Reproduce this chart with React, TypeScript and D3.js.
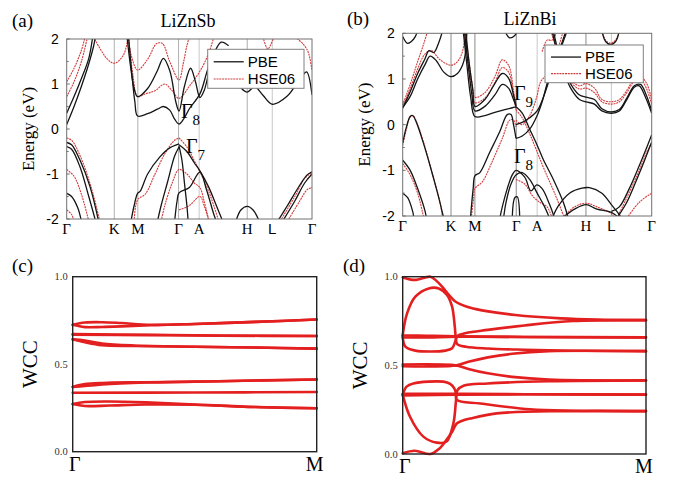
import React from "react";
import * as d3 from "d3";

type P = [number, number];

// high-symmetry path
const kTicks = [0, 0.194, 0.29, 0.456, 0.54, 0.736, 0.838, 1];
const kLabels = ["Γ", "K", "M", "Γ", "A", "H", "L", "Γ"];
const eTicks = [2, 1, 0, -1, -2];
const wTicks = [1.0, 0.5, 0.0];

// ---------- (a) LiZnSb ----------
const sbPBE: P[][] = [
  [[0, 0.1], [0.03, 0.5], [0.06, 0.95], [0.09, 1.45], [0.11, 1.85], [0.117, 2.05]],
  [[0, 0.35], [0.03, 0.72], [0.06, 1.12], [0.09, 1.57], [0.106, 2.05]],
  [[0.252, 2.05], [0.266, 1.2], [0.278, 0.6], [0.289, 0.29], [0.33, 0.34], [0.37, 0.44], [0.394, 0.5], [0.42, 0.42], [0.44, 0.22], [0.458, 0.11], [0.48, 0.25], [0.5, 0.45], [0.543, 0.78], [0.58, 1.4], [0.63, 1.93], [0.66, 1.85]],
  [[0.246, 2.05], [0.26, 1.4], [0.275, 0.9], [0.289, 0.72], [0.33, 0.9], [0.37, 1.3], [0.394, 1.57], [0.42, 1.3], [0.445, 0.6], [0.458, 0.4], [0.48, 0.95], [0.505, 1.35], [0.525, 1.05], [0.543, 0.7], [0.56, 0.85], [0.58, 1.3]],
  [[0.68, 1.2], [0.713, 0.9], [0.736, 0.82], [0.766, 0.94], [0.8, 0.75], [0.838, 0.55], [0.897, 0.72], [0.957, 1.16], [0.978, 1.27], [1, 0.76]],
  [[0, -0.3], [0.02, -0.35], [0.054, -0.69], [0.095, -1.28], [0.13, -2.05]],
  [[0, -0.39], [0.02, -0.45], [0.054, -0.84], [0.09, -1.5], [0.118, -2.05]],
  [[0, -1.43], [0.02, -1.5], [0.045, -1.75], [0.06, -2.05]],
  [[0.262, -2.05], [0.275, -1.7], [0.289, -1.43], [0.3, -1.38], [0.33, -1.0], [0.38, -0.62], [0.42, -0.42], [0.458, -0.33]],
  [[0.458, -0.35], [0.49, -0.5], [0.52, -0.75], [0.543, -0.93], [0.578, -1.28], [0.61, -1.7], [0.636, -2.05]],
  [[0.458, -0.38], [0.47, -0.7], [0.48, -1.2], [0.49, -1.7], [0.495, -2.05]],
  [[0.458, -0.4], [0.44, -0.6], [0.41, -1.2], [0.385, -1.7], [0.37, -2.05]],
  [[0.44, -2.05], [0.45, -1.6], [0.458, -1.42], [0.5, -1.3], [0.543, -0.96], [0.57, -1.35], [0.6, -1.9], [0.61, -2.05]],
  [[0.69, -2.05], [0.71, -1.8], [0.736, -1.72], [0.76, -1.8], [0.785, -2.05]],
  [[0.86, -2.05], [0.9, -1.7], [0.95, -1.25], [0.98, -1.02], [1, -0.95]],
  [[0.88, -2.05], [0.93, -1.6], [0.97, -1.2], [1, -1.0]],
];
const sbHSE: P[][] = [
  [[0, 0.72], [0.03, 1.05], [0.06, 1.5], [0.085, 2.05]],
  [[0, 1.05], [0.03, 1.35], [0.06, 1.75], [0.075, 2.05]],
  [[0.109, 2.05], [0.163, 1.57], [0.194, 1.46], [0.231, 1.64], [0.251, 2.05]],
  [[0.252, 2.05], [0.27, 1.2], [0.289, 0.72], [0.32, 0.78], [0.36, 0.85], [0.4, 1.0], [0.43, 0.85], [0.458, 0.68], [0.5, 0.95], [0.545, 1.3], [0.58, 1.7], [0.6, 2.05]],
  [[0.25, 2.05], [0.265, 1.6], [0.289, 1.31], [0.33, 1.55], [0.367, 1.9], [0.39, 1.9], [0.42, 1.5], [0.458, 1.09], [0.475, 1.45], [0.49, 1.85], [0.5, 2.05]],
  [[0.8, 2.05], [0.82, 1.78], [0.845, 2.05]],
  [[0.93, 2.05], [0.965, 1.88], [0.985, 1.7], [1, 1.3]],
  [[0, -0.2], [0.02, -0.25], [0.055, -0.6], [0.1, -1.3], [0.135, -2.05]],
  [[0, -0.9], [0.03, -1.05], [0.06, -1.45], [0.09, -2.05]],
  [[0, -1.8], [0.02, -1.9], [0.03, -2.05]],
  [[0.275, -2.05], [0.289, -1.57], [0.32, -1.45], [0.36, -1.0], [0.4, -0.55], [0.44, -0.25], [0.458, -0.2]],
  [[0.458, -0.2], [0.49, -0.4], [0.52, -0.7], [0.543, -0.95], [0.58, -1.4], [0.62, -2.05]],
  [[0.385, -2.05], [0.4, -1.7], [0.43, -1.2], [0.458, -0.9], [0.49, -1.0], [0.52, -1.2], [0.543, -1.3], [0.56, -1.6], [0.58, -2.05]],
  [[0.458, -1.8], [0.5, -1.7], [0.543, -1.5], [0.56, -1.7], [0.58, -2.05]],
  [[0.9, -2.05], [0.95, -1.6], [0.98, -1.35], [1, -1.3]],
  [[0.87, -2.05], [0.93, -1.5], [0.97, -1.1], [1, -0.97]],
];

// ---------- (b) LiZnBi ----------
const biPBE: P[][] = [
  [[0, -0.4], [0.015, -0.05], [0.03, 0.18], [0.04, 0.2], [0.055, 0.05], [0.08, -0.35], [0.11, -0.9], [0.14, -1.5], [0.165, -2.05]],
  [[0, 0.38], [0.03, 0.62], [0.06, 1.0], [0.09, 1.32], [0.11, 1.5], [0.135, 1.4], [0.165, 1.15], [0.194, 1.05], [0.22, 1.12], [0.24, 1.3], [0.25, 1.5], [0.258, 2.05]],
  [[0, 0.36], [0.03, 0.72], [0.06, 1.12], [0.09, 1.45], [0.105, 1.62], [0.125, 1.58], [0.145, 1.8], [0.16, 2.05]],
  [[0, 1.93], [0.02, 1.78], [0.045, 1.88], [0.06, 2.05]],
  [[0, -0.78], [0.03, -1.0], [0.06, -1.4], [0.09, -1.9], [0.095, -2.05]],
  [[0, -1.5], [0.02, -1.6], [0.04, -1.9], [0.045, -2.05]],
  [[0.243, 2.05], [0.258, 1.3], [0.273, 0.6], [0.29, 0.18], [0.33, 0.2], [0.37, 0.27], [0.41, 0.33], [0.44, 0.37], [0.455, 0.39]],
  [[0.248, 2.05], [0.263, 1.3], [0.278, 0.65], [0.29, 0.3], [0.33, 0.4], [0.37, 0.65], [0.4, 0.88], [0.425, 0.8], [0.445, 0.55], [0.455, 0.4]],
  [[0.253, 2.05], [0.268, 1.3], [0.282, 0.75], [0.29, 0.4], [0.33, 0.55], [0.37, 0.9], [0.4, 1.12], [0.425, 1.02], [0.445, 0.65], [0.455, 0.42]],
  [[0.272, -2.05], [0.283, -1.4], [0.29, -1.12], [0.31, -1.05], [0.35, -0.6], [0.39, -0.15], [0.42, 0.22], [0.435, 0.22], [0.445, 0.0], [0.455, -0.3]],
  [[0.455, 0.39], [0.48, 0.25], [0.51, -0.1], [0.54, -0.45], [0.565, -0.77], [0.605, -1.2], [0.645, -1.7], [0.665, -2.05]],
  [[0.455, -0.3], [0.48, -0.25], [0.51, -0.1], [0.54, 0.2], [0.56, 0.5], [0.58, 0.9], [0.61, 1.4], [0.64, 1.8], [0.655, 2.05]],
  [[0.455, 0.0], [0.48, 0.05], [0.51, 0.15], [0.54, 0.3], [0.565, 0.6], [0.59, 1.0], [0.62, 1.45], [0.65, 1.9], [0.66, 2.05]],
  [[0.39, -2.05], [0.4, -1.8], [0.42, -1.4], [0.44, -1.1], [0.455, -1.0], [0.49, -1.15], [0.515, -1.45], [0.538, -1.32], [0.56, -1.4], [0.59, -1.75], [0.61, -2.05]],
  [[0.405, -2.05], [0.415, -1.7], [0.435, -1.3], [0.455, -1.1], [0.48, -1.05], [0.51, -1.2], [0.54, -1.5], [0.57, -1.8], [0.59, -2.05]],
  [[0.44, -2.05], [0.45, -1.6], [0.46, -1.58], [0.47, -2.05]],
  [[0.6, -2.05], [0.625, -1.78], [0.67, -1.5], [0.72, -1.39], [0.75, -1.38], [0.8, -1.5], [0.838, -1.75], [0.86, -1.9], [0.88, -2.05]],
  [[0.64, -2.05], [0.69, -1.85], [0.736, -1.75], [0.78, -1.85], [0.838, -1.92], [0.87, -2.05]],
  [[0.838, -1.9], [0.87, -1.8], [0.91, -1.4], [0.95, -0.9], [0.98, -0.5], [1, -0.22]],
  [[0.86, -2.05], [0.9, -1.7], [0.94, -1.2], [0.97, -0.8], [1, -0.38]],
  [[0.6, 2.05], [0.62, 1.6], [0.65, 1.1], [0.68, 0.75], [0.71, 0.55], [0.736, 0.5], [0.77, 0.45], [0.8, 0.3], [0.838, 0.25], [0.87, 0.3], [0.9, 0.55], [0.93, 0.82], [0.95, 0.85], [0.975, 0.6], [1, 0.25]],
  [[0.605, 2.05], [0.625, 1.6], [0.655, 1.1], [0.685, 0.8], [0.71, 0.65], [0.736, 0.6], [0.77, 0.55], [0.8, 0.35], [0.838, 0.28], [0.87, 0.33], [0.9, 0.58], [0.93, 0.85], [0.955, 0.88], [0.978, 0.65], [1, 0.3]],
  [[0.8, 2.05], [0.815, 1.82], [0.835, 1.75], [0.855, 1.82], [0.87, 2.05]],
  [[0.41, 2.05], [0.43, 1.9], [0.45, 1.95], [0.46, 2.05]],
];
const biHSE: P[][] = [
  [[0, 0.4], [0.03, 0.78], [0.06, 1.22], [0.09, 1.55], [0.115, 1.62], [0.15, 1.42], [0.194, 1.3], [0.22, 1.38], [0.24, 1.6], [0.252, 2.05]],
  [[0, 0.43], [0.03, 0.88], [0.06, 1.38], [0.085, 1.78], [0.1, 2.05]],
  [[0, -0.45], [0.015, -0.1], [0.03, 0.17], [0.042, 0.19], [0.06, 0.0], [0.09, -0.5], [0.12, -1.1], [0.15, -1.7], [0.16, -2.05]],
  [[0, -0.85], [0.03, -1.1], [0.06, -1.5], [0.085, -2.05]],
  [[0.247, 2.05], [0.262, 1.4], [0.278, 0.85], [0.29, 0.6], [0.33, 0.7], [0.37, 1.05], [0.4, 1.42], [0.425, 1.3], [0.445, 0.75], [0.455, 0.35]],
  [[0.251, 2.05], [0.266, 1.4], [0.281, 0.8], [0.29, 0.48], [0.33, 0.58], [0.37, 0.92], [0.4, 1.25], [0.425, 1.15], [0.445, 0.65], [0.455, 0.32]],
  [[0.275, -2.05], [0.285, -1.6], [0.29, -1.4], [0.32, -1.25], [0.36, -0.8], [0.4, -0.3], [0.43, 0.1], [0.445, 0.1], [0.455, -0.05]],
  [[0.455, 0.32], [0.48, 0.15], [0.51, -0.2], [0.54, -0.6], [0.57, -1.0], [0.61, -1.5], [0.65, -2.05]],
  [[0.455, 0.1], [0.48, 0.0], [0.51, 0.2], [0.538, 0.6], [0.555, 0.95], [0.59, 1.15], [0.62, 1.6], [0.645, 2.05]],
  [[0.455, -1.2], [0.49, -1.3], [0.52, -1.55], [0.55, -1.7], [0.58, -1.8], [0.6, -2.05]],
  [[0.64, -2.05], [0.69, -1.8], [0.736, -1.72], [0.78, -1.8], [0.838, -1.95], [0.85, -2.05]],
  [[0.86, -2.05], [0.9, -1.6], [0.95, -1.0], [0.98, -0.6], [1, -0.4]],
  [[0.9, -2.05], [0.95, -1.7], [1, -1.5]],
  [[0.595, 2.05], [0.615, 1.7], [0.645, 1.2], [0.68, 0.9], [0.71, 0.78], [0.736, 0.8], [0.77, 0.7], [0.8, 0.5], [0.838, 0.45], [0.87, 0.5], [0.9, 0.7], [0.93, 0.95], [0.955, 1.0], [0.978, 0.8], [1, 0.45]],
  [[0.6, 2.05], [0.62, 1.65], [0.65, 1.2], [0.68, 0.95], [0.71, 0.85], [0.736, 0.9], [0.77, 0.8], [0.8, 0.55], [0.838, 0.5], [0.87, 0.55], [0.9, 0.75], [0.93, 1.0], [0.955, 1.05], [0.98, 0.9], [1, 0.55]],
  [[0.8, 2.05], [0.815, 1.85], [0.835, 1.78], [0.855, 1.85], [0.87, 2.05]],
  [[0.56, 1.6], [0.58, 1.85], [0.6, 1.85], [0.62, 2.05]],
];

// ---------- (c) WCC LiZnSb ----------
const wccSb: P[][] = [
  [[0, 0.725], [0.05, 0.738], [0.12, 0.74], [0.2, 0.735], [0.32, 0.725], [0.5, 0.73], [0.75, 0.742], [1, 0.755]],
  [[0, 0.725], [0.05, 0.712], [0.12, 0.713], [0.2, 0.716], [0.32, 0.723], [0.5, 0.73], [0.75, 0.742], [1, 0.755]],
  [[0, 0.672], [0.3, 0.668], [0.6, 0.664], [1, 0.661]],
  [[0, 0.668], [0.3, 0.666], [0.6, 0.663], [1, 0.661]],
  [[0, 0.642], [0.05, 0.635], [0.12, 0.618], [0.25, 0.607], [0.5, 0.6], [0.75, 0.595], [1, 0.589]],
  [[0, 0.642], [0.05, 0.625], [0.12, 0.608], [0.25, 0.604], [0.5, 0.6], [0.75, 0.595], [1, 0.589]],
  [[0, 0.37], [0.05, 0.386], [0.12, 0.393], [0.3, 0.397], [0.6, 0.403], [1, 0.413]],
  [[0, 0.37], [0.05, 0.375], [0.12, 0.384], [0.3, 0.395], [0.6, 0.403], [1, 0.413]],
  [[0, 0.337], [0.5, 0.338], [1, 0.341]],
  [[0, 0.272], [0.05, 0.284], [0.15, 0.287], [0.3, 0.282], [0.5, 0.27], [0.75, 0.255], [1, 0.248]],
  [[0, 0.272], [0.05, 0.261], [0.15, 0.264], [0.3, 0.27], [0.5, 0.268], [0.75, 0.255], [1, 0.248]],
];

// ---------- (d) WCC LiZnBi ----------
const wccBi: P[][] = [
  [[0, 0.996], [0.05, 0.982], [0.114, 1.0], [0.14, 0.975], [0.162, 0.944], [0.196, 0.887], [0.216, 0.86], [0.264, 0.83], [0.326, 0.81], [0.463, 0.784], [0.65, 0.765], [0.8, 0.758], [1, 0.755]],
  [[0, 0.004], [0.05, 0.018], [0.114, 0.0], [0.15, 0.03], [0.18, 0.08], [0.205, 0.13], [0.222, 0.172], [0.25, 0.19], [0.277, 0.2], [0.386, 0.229], [0.66, 0.242], [1, 0.242]],
  [[0, 0.671], [0.018, 0.793], [0.052, 0.887], [0.107, 0.934], [0.148, 0.934], [0.182, 0.897], [0.203, 0.831], [0.214, 0.718], [0.218, 0.66], [0.224, 0.62], [0.26, 0.605], [0.35, 0.595], [0.5, 0.588], [0.7, 0.582], [1, 0.58]],
  [[0, 0.665], [0.011, 0.605], [0.052, 0.583], [0.175, 0.583], [0.203, 0.596], [0.216, 0.634], [0.225, 0.665], [0.26, 0.682], [0.35, 0.7], [0.5, 0.725], [0.7, 0.75], [1, 0.755]],
  [[0, 0.668], [0.1, 0.667], [0.22, 0.664], [0.5, 0.66], [1, 0.658]],
  [[0, 0.657], [0.1, 0.657], [0.22, 0.661], [0.5, 0.66], [1, 0.658]],
  [[0, 0.505], [0.1, 0.506], [0.2, 0.503], [0.22, 0.5], [0.27, 0.52], [0.35, 0.545], [0.45, 0.565], [0.6, 0.58], [1, 0.58]],
  [[0, 0.495], [0.1, 0.494], [0.2, 0.497], [0.22, 0.5], [0.27, 0.48], [0.35, 0.455], [0.45, 0.435], [0.6, 0.42], [1, 0.415]],
  [[0, 0.335], [0.016, 0.38], [0.044, 0.398], [0.167, 0.408], [0.195, 0.395], [0.212, 0.37], [0.219, 0.342], [0.222, 0.305], [0.32, 0.285], [0.523, 0.252], [0.7, 0.244], [1, 0.242]],
  [[0, 0.335], [0.03, 0.21], [0.085, 0.098], [0.14, 0.064], [0.18, 0.07], [0.208, 0.17], [0.219, 0.3], [0.225, 0.36], [0.25, 0.385], [0.35, 0.398], [0.6, 0.41], [1, 0.415]],
  [[0, 0.34], [0.22, 0.34], [0.5, 0.337], [1, 0.335]],
  [[0, 0.33], [0.22, 0.334], [0.5, 0.337], [1, 0.335]],
];

const SERIF = "'Liberation Serif', 'DejaVu Serif', serif";
const SANS = "'Liberation Sans', Arial, sans-serif";

type BandProps = {
  id: string;
  x0: number; x1: number; y0: number; y1: number;
  pbe: P[][]; hse: P[][];
  tag: string; title: string; titleX: number; titleY: number; tagX: number;
  legend: { x: number; y: number; w: number; h: number };
  gammaLabels: { text: string; sub: string; x: number; y: number }[];
  vColor: string;
};

function BandPanel(p: BandProps) {
  const x = d3.scaleLinear().domain([0, 1]).range([p.x0, p.x1]);
  const y = d3.scaleLinear().domain([-2, 2]).range([p.y1, p.y0]);
  const line = d3.line<P>().x((d) => x(d[0])).y((d) => y(d[1])).curve(d3.curveCatmullRom.alpha(0.5));
  const minor = d3.range(-2, 2.01, 0.5);
  const L = p.legend;
  return (
    <g>
      <defs>
        <clipPath id={p.id}>
          <rect x={p.x0} y={p.y0} width={p.x1 - p.x0} height={p.y1 - p.y0} />
        </clipPath>
      </defs>
      <text x={p.tagX} y={p.titleY} fontFamily={SERIF} fontSize={19}>{p.tag}</text>
      <text x={p.titleX} y={p.titleY} fontFamily={SERIF} fontSize={18} textAnchor="middle">{p.title}</text>
      {kTicks.slice(1, -1).map((k, i) => (
        <line key={i} x1={x(k)} x2={x(k)} y1={p.y0} y2={p.y1} stroke={i === 3 || i === 5 ? "#c8c8c8" : p.vColor} strokeWidth={1} />
      ))}
      <g clipPath={`url(#${p.id})`}>
        {p.hse.map((b, i) => (
          <path key={"h" + i} d={line(b) || ""} fill="none" stroke="#d23c3c" strokeWidth={1.1} strokeDasharray="2,0.8" />
        ))}
        {p.pbe.map((b, i) => (
          <path key={"p" + i} d={line(b) || ""} fill="none" stroke="#151515" strokeWidth={1.3} />
        ))}
      </g>
      <rect x={p.x0} y={p.y0} width={p.x1 - p.x0} height={p.y1 - p.y0} fill="none" stroke="#707070" strokeWidth={1} />
      {minor.map((v, i) => (
        <line key={"t" + i} x1={p.x0} x2={p.x0 + (Number.isInteger(v) ? 3 : 2)} y1={y(v)} y2={y(v)} stroke="#707070" />
      ))}
      {eTicks.map((v) => (
        <text key={v} x={p.x0 - 8} y={y(v) + 5} fontFamily={SANS} fontSize={14} textAnchor="end">{v}</text>
      ))}
      {kTicks.map((k, i) => (
        <text key={"k" + i} x={x(k)} y={p.y1 + 15} fontFamily={kLabels[i] === "L" ? SANS : SERIF} fontSize={15} textAnchor="middle">{kLabels[i]}</text>
      ))}
      <text transform={`translate(${p.x0 - 33},${(p.y0 + p.y1) / 2}) rotate(-90)`} fontFamily={SERIF} fontSize={17} textAnchor="middle">Energy (eV)</text>
      <rect x={L.x} y={L.y} width={L.w} height={L.h} fill="white" stroke="#808080" strokeWidth={1} />
      <line x1={L.x + 6} x2={L.x + 36} y1={L.y + L.h * 0.32} y2={L.y + L.h * 0.32} stroke="#151515" strokeWidth={1.3} />
      <line x1={L.x + 6} x2={L.x + 36} y1={L.y + L.h * 0.76} y2={L.y + L.h * 0.76} stroke="#d23c3c" strokeWidth={1.1} strokeDasharray="2,0.8" />
      <text x={L.x + 40} y={L.y + L.h * 0.32 + 5} fontFamily={SANS} fontSize={15}>PBE</text>
      <text x={L.x + 40} y={L.y + L.h * 0.76 + 5} fontFamily={SANS} fontSize={15}>HSE06</text>
      {p.gammaLabels.map((g, i) => (
        <text key={"g" + i} x={g.x} y={g.y} fontFamily={SERIF} fontSize={20}>
          {g.text}
          <tspan fontSize={15} dy={7}>{g.sub}</tspan>
        </text>
      ))}
    </g>
  );
}

type WProps = {
  x0: number; x1: number; y0: number; y1: number; lines: P[][]; tag: string; tagX: number;
};

function WccPanel(p: WProps) {
  const x = d3.scaleLinear().domain([0, 1]).range([p.x0, p.x1]);
  const y = d3.scaleLinear().domain([0, 1]).range([p.y1, p.y0]);
  const line = d3.line<P>().x((d) => x(d[0])).y((d) => y(d[1])).curve(d3.curveCatmullRom.alpha(0.5));
  return (
    <g>
      <text x={p.tagX} y={272} fontFamily={SERIF} fontSize={19}>{p.tag}</text>
      {p.lines.map((l, i) => (
        <path key={i} d={line(l) || ""} fill="none" stroke="#e31f1f" strokeWidth={2.6} strokeLinecap="round" />
      ))}
      <rect x={p.x0} y={p.y0} width={p.x1 - p.x0} height={p.y1 - p.y0} fill="none" stroke="#222" strokeWidth={1.4} />
      {wTicks.map((v) => (
        <text key={v} x={p.x0 - 5} y={y(v) + 3.5} fontFamily={SERIF} fontSize={10.5} textAnchor="end" fill="#333">{v.toFixed(1)}</text>
      ))}
      <text x={p.x0 + 2} y={p.y1 + 19} fontFamily={SERIF} fontSize={20} textAnchor="middle">Γ</text>
      <text x={p.x1 - 2} y={p.y1 + 19} fontFamily={SERIF} fontSize={20} textAnchor="middle">M</text>
      <text transform={`translate(${p.x0 - 36},${(p.y0 + p.y1) / 2}) rotate(-90)`} fontFamily={SERIF} fontSize={21} textAnchor="middle">WCC</text>
    </g>
  );
}

export default function App() {
  return (
    <svg width={675} height={479} style={{ position: "absolute", left: 0, top: 0, background: "white" }}>
      <rect width={675} height={479} fill="white" />
      <BandPanel
        id="clipA" x0={66.7} x1={312} y0={39} y1={219}
        pbe={sbPBE} hse={sbHSE} tag="(a)" tagX={12} title="LiZnSb" titleX={188} titleY={27}
        legend={{ x: 207.7, y: 49.3, w: 96.3, h: 39 }}
        gammaLabels={[{ text: "Γ", sub: "8", x: 181, y: 118 }, { text: "Γ", sub: "7", x: 186, y: 153 }]}
        vColor="#b0b0b0"
      />
      <BandPanel
        id="clipB" x0={402.7} x1={651.7} y0={33.3} y1={216}
        pbe={biPBE} hse={biHSE} tag="(b)" tagX={347} title="LiZnBi" titleX={530} titleY={25}
        legend={{ x: 545, y: 45, w: 98.3, h: 37.7 }}
        gammaLabels={[{ text: "Γ", sub: "9", x: 514, y: 100 }, { text: "Γ", sub: "8", x: 514, y: 163 }]}
        vColor="#8a8a8a"
      />
      <WccPanel x0={72.7} x1={316.7} y0={276.7} y1={451.7} lines={wccSb} tag="(c)" tagX={12} />
      <WccPanel x0={402.7} x1={646} y0={276.7} y1={454} lines={wccBi} tag="(d)" tagX={343} />
    </svg>
  );
}
